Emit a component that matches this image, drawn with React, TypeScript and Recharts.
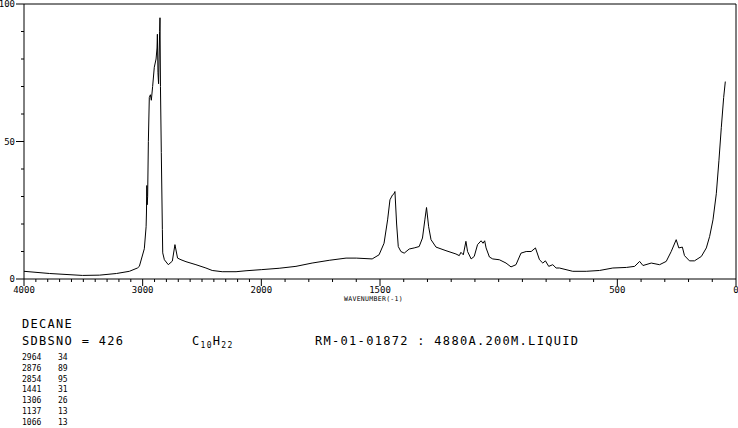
import React from 'react';
import { LineChart, Line, XAxis, YAxis, ReferenceLine } from 'recharts';

// Raman spectrum of decane (wavenumber in cm-1, relative intensity)
const wavenumbers = [
  4000, 3784, 3507, 3364, 3221, 3112, 3044, 3028, 2986, 2971, 2968, 2965, 2962, 2958, 2952, 2944,
  2935, 2927, 2916, 2902, 2887, 2879, 2876, 2871, 2866, 2857, 2854, 2850, 2843, 2834, 2831, 2817,
  2784, 2750, 2728, 2706, 2677, 2635, 2551, 2467, 2414, 2330, 2213, 2129, 2000,
  1925, 1854, 1786, 1714, 1643, 1600, 1533, 1504, 1483, 1468, 1458, 1447, 1441, 1437, 1430, 1423,
  1412, 1398, 1377, 1356, 1335, 1321, 1311, 1304, 1295, 1285, 1264, 1222, 1180, 1166, 1159, 1149,
  1138, 1131, 1116, 1103, 1089, 1074, 1066, 1059, 1053, 1039, 1025, 997, 969, 948, 927, 906, 884,
  863, 845, 828, 814, 803, 789, 772, 758, 744, 688, 631, 575, 519, 462, 427, 406, 392, 357, 322,
  294, 273, 252, 241, 226, 217, 196, 175, 146, 125, 111, 97, 83, 72, 62, 52, 45,
];
const intensities = [
  2.8, 2.0, 1.3, 1.4, 2.0, 2.8, 4.0, 4.6, 11, 19, 24, 34, 27, 30, 50, 66,
  67, 65, 70, 77, 80, 84, 89, 75, 71, 90, 95, 70, 46, 18, 9.5, 7,
  5.2, 6.5, 12.5, 7.6, 7, 6.3, 5.2, 4, 3.1, 2.65, 2.65, 3.0, 3.4,
  3.9, 4.6, 5.8, 6.8, 7.6, 7.6, 7.3, 8.8, 13, 21.5, 28.8, 30.6, 31, 31.8, 20, 11.8,
  10, 9.4, 10.9, 11.3, 11.8, 14.9, 21.5, 26, 19, 14.3, 11.6, 10.3, 9.1, 8.5, 9.7, 8.8,
  13.7, 10, 7.3, 8.2, 12.5, 13.9, 13, 13.9, 11.3, 8, 7.3, 7, 5.8, 4.4, 5.2, 9.4, 10,
  10, 11.3, 7, 5.8, 6.6, 4.6, 5.2, 4, 4, 2.8, 2.8, 3.1, 4, 4.2, 4.6, 6.4, 4.9, 5.8, 5.2,
  6.4, 10, 14.3, 11.3, 11.6, 8.5, 6.6, 6.6, 8.2, 11.3, 15.5, 21.5, 31, 43, 55, 66, 71.8,
];

const xTickWavenumbers = [
  4000, 3900, 3800, 3700, 3600, 3500, 3400, 3300, 3200, 3100, 3000, 2900, 2800, 2700, 2600, 2500,
  2400, 2300, 2200, 2100, 2000, 1900, 1800, 1700, 1600, 1500, 1400, 1300, 1200, 1100, 1000, 900,
  800, 700, 600, 500, 400, 300, 200, 100, 0,
];
const xLabelWavenumbers = [4000, 3000, 2000, 1500, 500, 0];
const yTicks = [0, 10, 20, 30, 40, 50, 60, 70, 80, 90, 100];
const yLabels = [0, 50, 100];

const peakWavenumbers = ['2964', '2876', '2854', '1441', '1306', '1137', '1066'];
const peakIntensities = ['34', '89', '95', '31', '26', '13', '13'];

// the axis uses 1000 cm-1 per unit width above 2000 and 500 cm-1 below
const toPos = (wn: number) => (wn >= 2000 ? 4000 - wn : 2000 + 2 * (2000 - wn));
const fromPos = (p: number) => Math.round(p <= 2000 ? 4000 - p : 2000 - (p - 2000) / 2);

const data = wavenumbers.map((wn, i) => ({ pos: toPos(wn), value: intensities[i] }));

const MONO = '"DejaVu Sans Mono", "Liberation Mono", monospace';

const XTick = (props: any) => {
  const { x, y, payload } = props;
  const wn = fromPos(payload.value);
  const major = xLabelWavenumbers.includes(wn);
  return (
    <g>
      <line x1={x} x2={x} y1={y} y2={y + (major ? 7 : 3)} stroke="#000" strokeWidth={1} />
      {major && (
        <text x={x} y={y + 14} textAnchor="middle" fontSize={9} fontFamily={MONO} fill="#000">
          {wn}
        </text>
      )}
    </g>
  );
};

const YTick = (props: any) => {
  const { x, y, payload } = props;
  const major = yLabels.includes(payload.value);
  return (
    <g>
      <line x1={x} x2={x - (major ? 8 : 3)} y1={y} y2={y} stroke="#000" strokeWidth={1} />
      {major && (
        <text x={x - 9} y={y + 3} textAnchor="end" fontSize={9} fontFamily={MONO} fill="#000">
          {payload.value}
        </text>
      )}
    </g>
  );
};

const textStyle: React.CSSProperties = {
  position: 'absolute',
  fontFamily: MONO,
  color: '#000',
  whiteSpace: 'pre',
  lineHeight: 1,
};

export default function App() {
  return (
    <div style={{ position: 'absolute', left: 0, top: 0, width: 738, height: 428, background: '#fff' }}>
      <LineChart
        width={738}
        height={428}
        data={data}
        margin={{ top: 4, right: 2, bottom: 129, left: 0 }}
      >
        <XAxis
          dataKey="pos"
          type="number"
          domain={[0, 6000]}
          ticks={xTickWavenumbers.map(toPos)}
          interval={0}
          tick={<XTick />}
          tickLine={false}
          tickSize={0}
          tickMargin={0}
          height={20}
          axisLine={{ stroke: '#000', strokeWidth: 1 }}
        />
        <YAxis
          type="number"
          domain={[0, 100]}
          ticks={yTicks}
          interval={0}
          tick={<YTick />}
          tickLine={false}
          tickSize={0}
          tickMargin={0}
          width={24}
          axisLine={{ stroke: '#000', strokeWidth: 1 }}
        />
        <ReferenceLine y={100} stroke="#000" strokeWidth={1} />
        <ReferenceLine x={6000} stroke="#000" strokeWidth={1} />
        <Line
          type="linear"
          dataKey="value"
          stroke="#000"
          strokeWidth={1}
          dot={false}
          isAnimationActive={false}
        />
      </LineChart>
      <div style={{ ...textStyle, left: 344, top: 296, fontSize: 6.5, letterSpacing: 0.3 }}>WAVENUMBER(-1)</div>
      <div style={{ ...textStyle, left: 22, top: 318, fontSize: 12, letterSpacing: 1.3 }}>DECANE</div>
      <div style={{ ...textStyle, left: 22, top: 335, fontSize: 12, letterSpacing: 1.3 }}>SDBSNO = 426</div>
      <div style={{ ...textStyle, left: 192, top: 335, fontSize: 12, letterSpacing: 1.3 }}>
        C<span style={{ fontSize: 8, position: 'relative', top: 3 }}>10</span>H
        <span style={{ fontSize: 8, position: 'relative', top: 3 }}>22</span>
      </div>
      <div style={{ ...textStyle, left: 315, top: 335, fontSize: 12, letterSpacing: 1.3 }}>
        RM-01-01872 : 4880A.200M.LIQUID
      </div>
      {peakWavenumbers.map((wn, i) => (
        <React.Fragment key={wn + i}>
          <div style={{ ...textStyle, left: 22, top: 354 + i * 10.8, fontSize: 8 }}>{wn}</div>
          <div style={{ ...textStyle, left: 58, top: 354 + i * 10.8, fontSize: 8 }}>{peakIntensities[i]}</div>
        </React.Fragment>
      ))}
    </div>
  );
}
